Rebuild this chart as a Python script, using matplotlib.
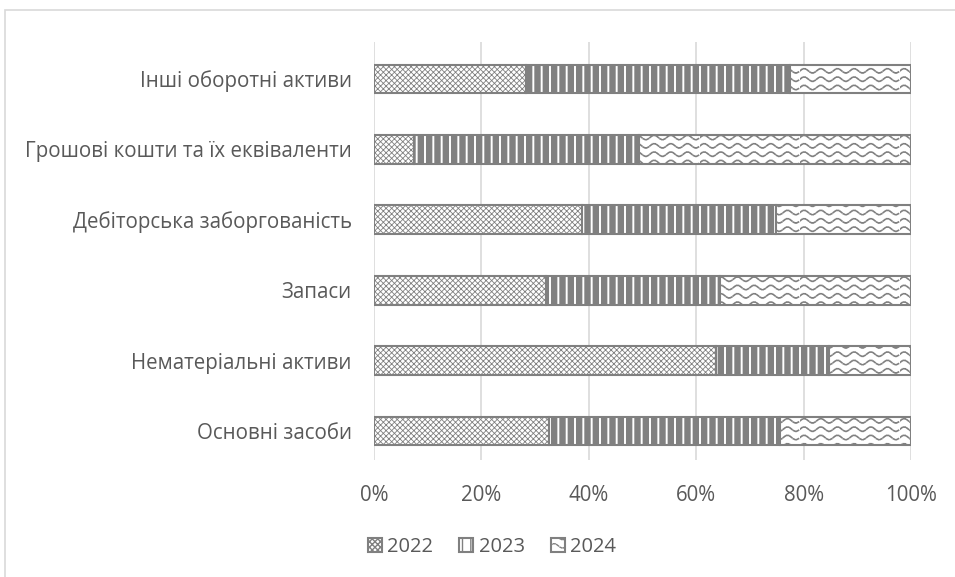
import warnings
import numpy as np
import matplotlib
matplotlib.use('Agg')
import matplotlib.pyplot as plt
from matplotlib import hatch as mhatch
from matplotlib.path import Path
from matplotlib.patches import Rectangle

warnings.filterwarnings('ignore')

# data (shares, %)
categories = ['Основні засоби', 'Нематеріальні активи', 'Запаси',
              'Дебіторська заборгованість', 'Грошові кошти та їх еквіваленти',
              'Інші оборотні активи']
years = ['2022', '2023', '2024']
share_2022 = [32.6, 63.7, 32.0, 38.7, 7.4, 28.3]
share_2023 = [43.0, 21.0, 32.4, 36.1, 42.0, 49.1]
share_2024 = [24.4, 15.3, 35.6, 25.2, 50.6, 22.6]
x_ticks = [0, 20, 40, 60, 80, 100]


# wavy dashed hatch for 2024 (no built-in one)
class WaveHatch(mhatch.HatchPatternBase):
    def __init__(self, hatch, density):
        self.num_rows = hatch.count('~') * density
        self.dashes = 30
        self.num_vertices = self.num_rows * self.dashes * 2

    def set_vertices_and_codes(self, vertices, codes):
        k = 6
        amp = 0.022
        step = 1.0 / self.dashes
        i = 0
        for r in range(self.num_rows):
            y0 = (r + 0.5) / self.num_rows
            for d in range(self.dashes):
                x0 = d * step
                x1 = x0 + step * 0.55
                vertices[i] = (x0, y0 + amp * np.sin(2 * np.pi * k * x0))
                vertices[i + 1] = (x1, y0 + amp * np.sin(2 * np.pi * k * x1))
                codes[i] = Path.MOVETO
                codes[i + 1] = Path.LINETO
                i += 2


mhatch._hatch_types.append(WaveHatch)

plt.rcParams['font.family'] = ['Open Sans', 'DejaVu Sans']
text_color = '#595959'
gray = '#808080'

W, H = 955, 577
fig = plt.figure(figsize=(W / 100, H / 100), dpi=100)

# chart area border (cropped at right/bottom)
fig.patches.append(Rectangle((5 / W, -0.1), 1.2, 1 - 10 / H + 0.1,
                             transform=fig.transFigure, fill=False,
                             edgecolor='#d9d9d9', linewidth=1.2))

top, bottom = 42, 460
ax = fig.add_axes([374 / W, 1 - bottom / H, (911 - 374) / W, (bottom - top) / H])

y = np.arange(len(categories))
styles = [('xxxxxx', 0.6), ('||', 4.6), ('~~', 1.2)]
series = [share_2022, share_2023, share_2024]
left = np.zeros(len(categories))
for vals, (hp, hlw), lab in zip(series, styles, years):
    with plt.rc_context({'hatch.linewidth': hlw}):
        bars = ax.barh(y, vals, left=left, height=0.41, color='white',
                       edgecolor=gray, linewidth=1.5, hatch=hp, label=lab,
                       zorder=3)
        for b in bars:
            if hasattr(b, 'set_hatch_linewidth'):
                b.set_hatch_linewidth(hlw)
    left += np.array(vals)

ax.set_xlim(0, 100)
ax.set_ylim(-0.412, 5.526)
ax.set_xticks(x_ticks)
ax.set_xticklabels([f'{t}%' for t in x_ticks])
ax.set_yticks(y)
ax.set_yticklabels(categories)
ax.tick_params(axis='both', length=0, labelsize=14.8, colors=text_color)
ax.tick_params(axis='x', pad=18)
ax.tick_params(axis='y', pad=16)
ax.grid(axis='x', color='#d9d9d9', linewidth=1.2, zorder=0)
for s in ax.spines.values():
    s.set_visible(False)

leg = fig.legend(loc='center', bbox_to_anchor=(492 / W, 1 - 547 / H), ncol=3,
                 frameon=False, fontsize=14.5, handlelength=0.7,
                 handleheight=0.7, handletextpad=0.25, columnspacing=1.3)
for t in leg.get_texts():
    t.set_color(text_color)

fig.savefig('out.png', dpi=100)
